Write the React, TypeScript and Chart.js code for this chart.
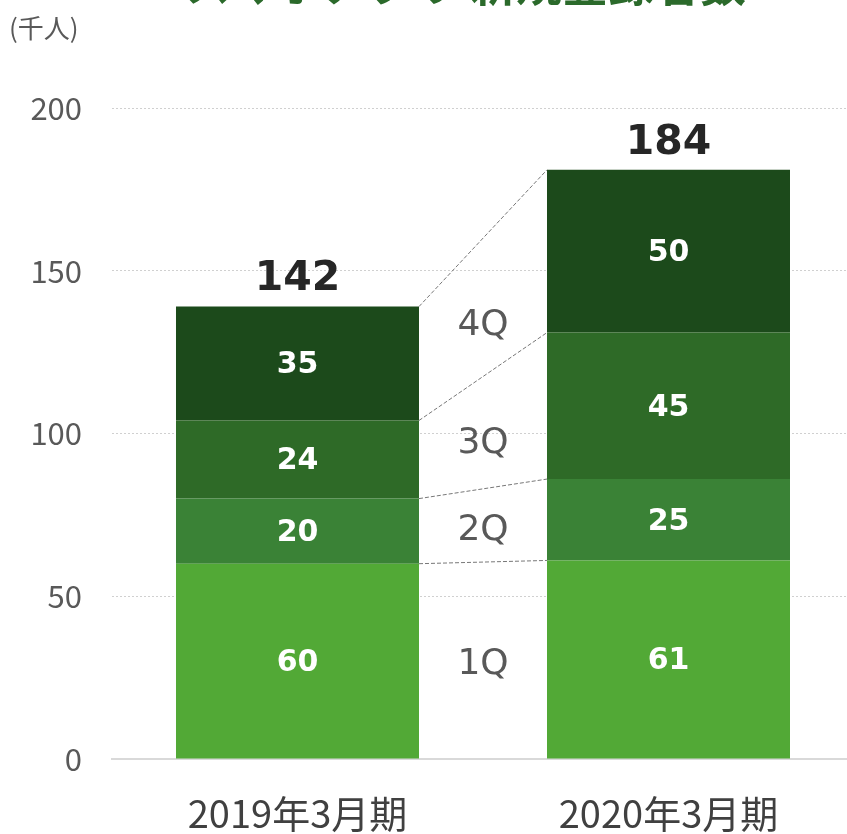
import React, { useEffect, useRef } from "react";
import { Chart, registerables } from "chart.js";

Chart.register(...registerables);

const categories = ["2019年3月期", "2020年3月期"];
const quarterNames = ["1Q", "2Q", "3Q", "4Q"];
const q1 = [60, 61];
const q2 = [20, 25];
const q3 = [24, 45];
const q4 = [35, 50];
const totals = [142, 184];
const yTicks = [0, 50, 100, 150, 200];

const quarterColors = ["#52a936", "#3a8236", "#2e6a27", "#1c4a1b"];

const JP = '"Noto Sans CJK JP", "Noto Sans", sans-serif';
const VD = '"DejaVu Sans", Verdana, sans-serif';

const overlayPlugin = {
  id: "overlay",
  afterDatasetsDraw(chart: any) {
    const ctx = chart.ctx;
    const metas = chart.data.datasets.map((_: any, i: number) => chart.getDatasetMeta(i));
    ctx.save();

    // connectors
    ctx.strokeStyle = "#777777";
    ctx.lineWidth = 1;
    ctx.setLineDash([4, 2]);
    metas.forEach((m: any) => {
      const b0 = m.data[0];
      const b1 = m.data[1];
      ctx.beginPath();
      ctx.moveTo(b0.x + b0.width / 2, b0.y);
      ctx.lineTo(b1.x - b1.width / 2, b1.y);
      ctx.stroke();
    });
    ctx.setLineDash([]);

    // quarter labels
    ctx.font = `36px ${VD}`;
    ctx.fillStyle = "#595959";
    ctx.textAlign = "center";
    ctx.textBaseline = "middle";
    const t = 0.375;
    metas.forEach((m: any, di: number) => {
      const b0 = m.data[0];
      const b1 = m.data[1];
      const x = (b0.x + b0.width / 2 + b1.x - b1.width / 2) / 2;
      const top = b0.y + t * (b1.y - b0.y);
      const bottom = b0.base + t * (b1.base - b0.base);
      ctx.fillText(quarterNames[di], x, (top + bottom) / 2 + 4);
    });

    // segment labels
    ctx.font = `bold 30px ${VD}`;
    ctx.fillStyle = "#ffffff";
    metas.forEach((m: any, di: number) => {
      m.data.forEach((bar: any, i: number) => {
        const v = chart.data.datasets[di].data[i];
        ctx.fillText(String(v), bar.x, (bar.y + bar.base) / 2 + 2);
      });
    });

    // totals
    ctx.font = `bold 41px ${VD}`;
    ctx.fillStyle = "#262626";
    const last = metas[metas.length - 1];
    last.data.forEach((bar: any, i: number) => {
      ctx.fillText(String(totals[i]), bar.x, bar.y - 27);
    });
    ctx.restore();
  },
};

export default function App() {
  const ref = useRef<HTMLCanvasElement | null>(null);

  useEffect(() => {
    if (!ref.current) return;
    const chart = new Chart(ref.current, {
      type: "bar",
      data: {
        labels: categories,
        datasets: [q1, q2, q3, q4].map((d, i) => ({
          label: quarterNames[i],
          data: d,
          backgroundColor: quarterColors[i],
          borderWidth: 0,
          barPercentage: 0.655,
          categoryPercentage: 1,
        })),
      },
      options: {
        responsive: false,
        animation: false,
        devicePixelRatio: 1,
        layout: { padding: { left: 0, right: 6, top: 108, bottom: 0 } },
        plugins: {
          legend: { display: false },
          title: { display: false },
          tooltip: { enabled: false },
        },
        scales: {
          x: {
            stacked: true,
            grid: { display: false, drawTicks: false },
            border: { display: true, color: "#d9d9d9", width: 2 },
            ticks: {
              color: "#404040",
              font: { family: JP, size: 38 },
              padding: 32,
              maxRotation: 0,
            },
            afterFit: (s: any) => {
              s.height = 75;
            },
          },
          y: {
            stacked: true,
            min: yTicks[0],
            max: yTicks[yTicks.length - 1],
            afterBuildTicks: (s: any) => {
              s.ticks = yTicks.map((v) => ({ value: v }));
            },
            grid: {
              drawTicks: false,
              color: (c: any) => (c.tick && c.tick.value === 0 ? "rgba(0,0,0,0)" : "#d0d0d0"),
              lineWidth: 1,
            },
            border: { display: false, dash: [2, 2] },
            ticks: {
              color: "#595959",
              font: { family: JP, size: 31 },
              padding: 30,
            },
            afterFit: (s: any) => {
              s.width = 112;
            },
          },
        },
      },
      plugins: [overlayPlugin],
    });
    return () => chart.destroy();
  }, []);

  return (
    <div
      style={{
        position: "fixed",
        left: 0,
        top: 0,
        width: 847,
        height: 834,
        overflow: "hidden",
        background: "#ffffff",
      }}
    >
      <canvas ref={ref} width={860} height={834} style={{ position: "absolute", left: 0, top: 0 }} />
      <div
        style={{
          position: "absolute",
          left: 185,
          top: -42,
          fontFamily: JP,
          fontWeight: "bold",
          fontSize: 46,
          lineHeight: "46px",
          color: "#2b6a2b",
          whiteSpace: "nowrap",
        }}
      >
        スマホアプリ 新規登録者数
      </div>
      <div
        style={{
          position: "absolute",
          left: 9,
          top: 12,
          fontFamily: JP,
          fontSize: 26,
          lineHeight: "30px",
          color: "#595959",
          whiteSpace: "nowrap",
        }}
      >
        (千人)
      </div>
    </div>
  );
}
